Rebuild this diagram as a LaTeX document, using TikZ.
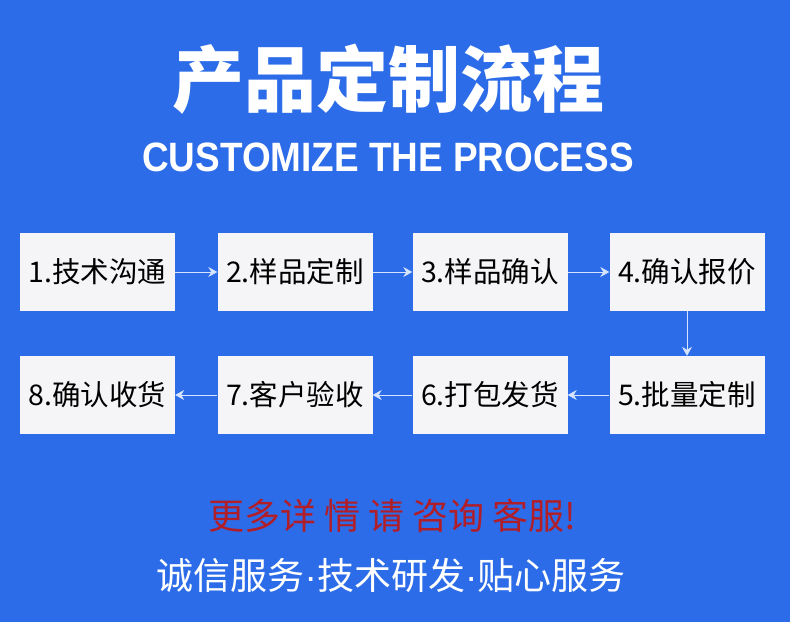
\documentclass[tikz,border=0pt]{standalone}
\usepackage{fontspec}
\usepackage{xcolor}
\usetikzlibrary{arrows.meta}
\setmainfont{Liberation Sans}
\newfontfamily\cjk{Noto Sans CJK SC}
\definecolor{bgblue}{RGB}{44,108,232}
\definecolor{boxgray}{RGB}{245,245,247}
\definecolor{tipred}{RGB}{178,30,40}
\definecolor{arrowblue}{RGB}{215,228,255}

\begin{document}
\begin{tikzpicture}[x=1pt,y=-1pt,
    stepnode/.style={rectangle, fill=boxgray, minimum width=155pt, minimum height=78pt, inner sep=0pt, font=\cjk\fontsize{28.5}{28.5}\selectfont},
    flow/.style={-{Stealth[length=9pt,width=10pt,inset=3pt]}, draw=arrowblue, fill=arrowblue, line width=0.7pt}]
    \fill[bgblue] (0,0) rectangle (790,622);
    \useasboundingbox (0,0) rectangle (790,622);

    \node[text=white, font=\cjk\bfseries\fontsize{72}{72}\selectfont] (T1) at (388,79) {产品定制流程};
    \node[text=white, font=\bfseries\fontsize{41}{41}\selectfont] (T2) at (388,157) {\scalebox{0.9}[1]{CUSTOMIZE THE PROCESS}};

    \node[stepnode] (S1) at (97.5,272) {1.技术沟通};
    \node[stepnode] (S2) at (295,272) {2.样品定制};
    \node[stepnode] (S3) at (490,272) {3.样品确认};
    \node[stepnode] (S4) at (687,272) {4.确认报价};
    \node[stepnode] (S5) at (687,395) {5.批量定制};
    \node[stepnode] (S6) at (490,395) {6.打包发货};
    \node[stepnode] (S7) at (295,395) {7.客户验收};
    \node[stepnode] (S8) at (97.5,395) {8.确认收货};

    \draw[flow] (S1) -- (S2);
    \draw[flow] (S2) -- (S3);
    \draw[flow] (S3) -- (S4);
    \draw[flow] (S4) -- (S5);
    \draw[flow] (S5) -- (S6);
    \draw[flow] (S6) -- (S7);
    \draw[flow] (S7) -- (S8);

    \node[text=tipred, font=\cjk\fontsize{36}{36}\selectfont] (R) at (392,516) {更多详 情 请 咨询 客服!};
    \node[text=white, font=\cjk\fontsize{37}{37}\selectfont] (W) at (391,575) {诚信服务{\normalfont·}技术研发{\normalfont·}贴心服务};
\end{tikzpicture}
\end{document}
